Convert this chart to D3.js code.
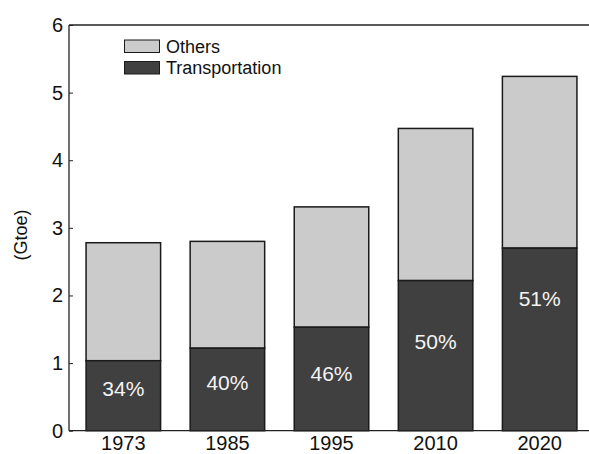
<!DOCTYPE html>
<html>
<head>
<meta charset="utf-8">
<script src="https://cdn.jsdelivr.net/npm/d3@7"></script>
<style>
  body { margin: 0; background: #fff; }
  svg { display: block; font-family: "Liberation Sans", Arial, sans-serif; }
</style>
</head>
<body>
<div class="chart"></div>
<script>
const years = ["1973", "1985", "1995", "2010", "2020"];
const transport = [1.035, 1.22, 1.53, 2.22, 2.70];
const totals = [2.78, 2.80, 3.31, 4.47, 5.24];
const shares = ["34%", "40%", "46%", "50%", "51%"];
const labelAt = [0.62, 0.71, 0.84, 1.32, 1.95];   // label height in Gtoe
const yTicks = [0, 1, 2, 3, 4, 5, 6];

const w = 589, h = 454;
const padL = 69, padT = 25, baseY = 430.7, padR = 594;

const svg = d3.select(".chart").append("svg")
  .attr("width", w).attr("height", h);

const x = d3.scaleBand().domain(years).range([padL, padR])
  .paddingInner(0.284).paddingOuter(0.164);
const y = d3.scaleLinear().domain([0, 6]).range([baseY, padT]);

/* bars */
const g = svg.append("g");
years.forEach((yr, i) => {
  g.append("rect")
    .attr("x", x(yr)).attr("width", x.bandwidth())
    .attr("y", y(totals[i])).attr("height", y(transport[i]) - y(totals[i]))
    .attr("fill", "#cbcbcb").attr("stroke", "#1a1a1a").attr("stroke-width", 1.5);
  g.append("rect")
    .attr("x", x(yr)).attr("width", x.bandwidth())
    .attr("y", y(transport[i])).attr("height", y(0) - y(transport[i]))
    .attr("fill", "#404040").attr("stroke", "#1a1a1a").attr("stroke-width", 1.5);
  g.append("text")
    .attr("x", x(yr) + x.bandwidth() / 2).attr("y", y(labelAt[i]))
    .attr("text-anchor", "middle").attr("dominant-baseline", "central")
    .attr("fill", "#f4f4f4").attr("font-size", 21)
    .text(shares[i]);
});

/* axes */
const yAxis = svg.append("g")
  .attr("transform", "translate(" + padL + ",0)")
  .call(d3.axisRight(y).tickValues(yTicks).tickSize(4).tickFormat(d3.format("d")));
yAxis.select(".domain").remove();
yAxis.selectAll(".tick line").attr("stroke", "#222");
yAxis.selectAll(".tick text")
  .attr("x", -6).attr("text-anchor", "end")
  .attr("font-size", 20).attr("fill", "#111")
  .attr("font-family", "Liberation Sans, Arial, sans-serif");

svg.append("line").attr("x1", padL).attr("x2", padL).attr("y1", padT).attr("y2", baseY)
  .attr("stroke", "#222").attr("stroke-width", 1.3);
svg.append("line").attr("x1", padL).attr("x2", w).attr("y1", padT).attr("y2", padT)
  .attr("stroke", "#222").attr("stroke-width", 1.3);

const xAxis = svg.append("g")
  .attr("transform", "translate(0," + baseY + ")")
  .call(d3.axisBottom(x).tickSize(0));
xAxis.select(".domain").remove();
xAxis.selectAll(".tick text")
  .attr("y", 19).attr("dy", 0)
  .attr("font-size", 20).attr("fill", "#111")
  .attr("font-family", "Liberation Sans, Arial, sans-serif");
svg.append("line").attr("x1", padL).attr("x2", w).attr("y1", baseY).attr("y2", baseY)
  .attr("stroke", "#222").attr("stroke-width", 1.3);

svg.append("text")
  .attr("transform", "translate(21,235) rotate(-90)")
  .attr("text-anchor", "middle").attr("dominant-baseline", "central")
  .attr("font-size", 18).attr("fill", "#111")
  .text("(Gtoe)");

/* legend */
const legend = [["Others", "#cbcbcb"], ["Transportation", "#404040"]];
legend.forEach((d, i) => {
  svg.append("rect")
    .attr("x", 124.5).attr("y", 40 + i * 21.5).attr("width", 35).attr("height", 12.5)
    .attr("fill", d[1]).attr("stroke", "#1a1a1a").attr("stroke-width", 1);
  svg.append("text")
    .attr("x", 166).attr("y", 52.5 + i * 21)
    .attr("font-size", 18).attr("fill", "#111")
    .text(d[0]);
});
</script>
</body>
</html>
